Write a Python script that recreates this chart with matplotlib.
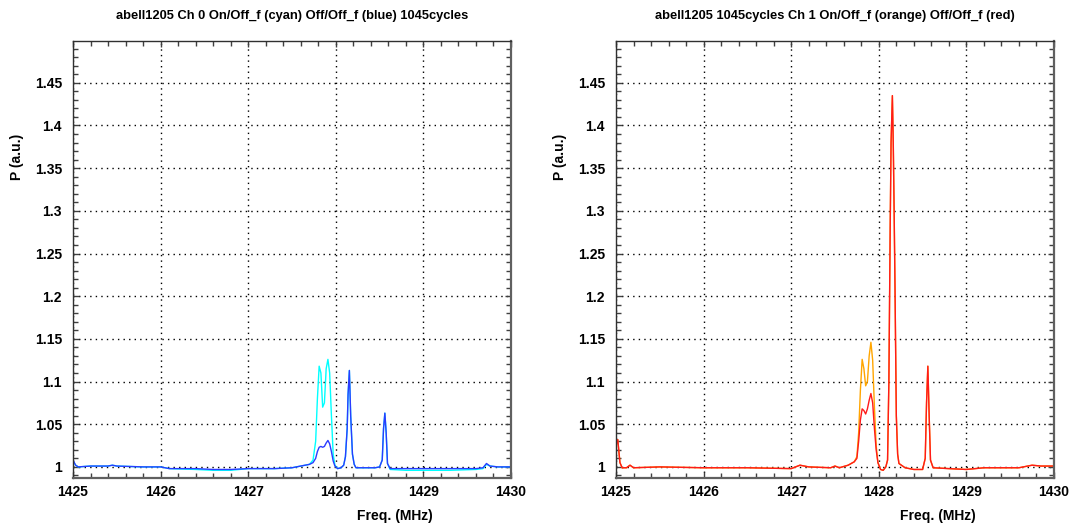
import matplotlib
matplotlib.use("Agg")
import matplotlib.pyplot as plt
from matplotlib.ticker import MultipleLocator, FormatStrFormatter, FuncFormatter

plt.rcParams['font.family'] = ['Liberation Sans', 'DejaVu Sans']
plt.rcParams['font.weight'] = 'bold'
plt.rcParams['font.size'] = 10

# channel 0 spectrum (freq in MHz)
freq_ch0 = [1425.00, 1425.03, 1425.06, 1425.20, 1425.40, 1425.45, 1425.50, 1425.80,
            1426.00, 1426.10, 1426.40, 1426.60, 1426.80, 1427.00, 1427.30, 1427.50,
            1427.60, 1427.70, 1427.74, 1427.77, 1427.79, 1427.81, 1427.83, 1427.85,
            1427.87, 1427.89, 1427.91, 1427.93, 1427.95, 1427.97, 1427.99, 1428.02,
            1428.06, 1428.09, 1428.11, 1428.13, 1428.14, 1428.155, 1428.17, 1428.19,
            1428.21, 1428.23, 1428.30, 1428.45, 1428.50, 1428.53, 1428.545, 1428.56,
            1428.575, 1428.59, 1428.62, 1428.80, 1429.00, 1429.30, 1429.60, 1429.68,
            1429.72, 1429.76, 1429.85, 1430.00]
on_ch0 = [1.007, 1.002, 1.000, 1.001, 1.001, 1.002, 1.001, 1.000,
          1.000, 0.998, 0.997, 0.996, 0.996, 0.998, 0.998, 0.999,
          1.001, 1.003, 1.008, 1.030, 1.080, 1.118, 1.110, 1.070,
          1.075, 1.115, 1.126, 1.110, 1.060, 1.015, 1.002, 0.998,
          0.999, 1.002, 1.012, 1.045, 1.085, 1.113, 1.060, 1.015,
          1.003, 0.999, 0.999, 0.999, 1.000, 1.008, 1.045, 1.063,
          1.040, 1.004, 0.997, 0.996, 0.996, 0.996, 0.997, 0.998,
          1.003, 1.001, 1.000, 1.000]
off_ch0 = [1.008, 1.002, 1.000, 1.001, 1.001, 1.002, 1.001, 1.000,
           1.000, 0.998, 0.998, 0.997, 0.997, 0.998, 0.998, 0.999,
           1.001, 1.003, 1.005, 1.010, 1.018, 1.023, 1.024, 1.023,
           1.024, 1.028, 1.031, 1.027, 1.018, 1.007, 1.001, 0.998,
           0.999, 1.002, 1.012, 1.045, 1.085, 1.113, 1.060, 1.015,
           1.003, 0.999, 0.999, 0.999, 1.000, 1.008, 1.045, 1.063,
           1.040, 1.004, 0.998, 0.998, 0.998, 0.998, 0.998, 0.999,
           1.004, 1.001, 1.000, 1.000]

# channel 1 spectrum
freq_ch1 = [1425.00, 1425.02, 1425.045, 1425.07, 1425.12, 1425.16, 1425.20, 1425.50,
            1426.00, 1426.50, 1427.00, 1427.10, 1427.20, 1427.45, 1427.50, 1427.55,
            1427.65, 1427.72, 1427.75, 1427.77, 1427.79, 1427.81, 1427.83, 1427.85,
            1427.87, 1427.89, 1427.91, 1427.93, 1427.95, 1427.97, 1427.99, 1428.02,
            1428.05, 1428.08, 1428.10, 1428.115, 1428.13, 1428.14, 1428.155, 1428.165,
            1428.175, 1428.185, 1428.20, 1428.215, 1428.23, 1428.30, 1428.40, 1428.50,
            1428.53, 1428.545, 1428.56, 1428.575, 1428.59, 1428.62, 1428.80, 1429.00,
            1429.20, 1429.60, 1429.75, 1429.85, 1430.00]
on_ch1 = [1.028, 1.032, 1.005, 0.999, 0.999, 1.002, 0.999, 1.000,
          0.999, 0.999, 0.998, 1.002, 1.000, 0.999, 1.001, 0.999,
          1.002, 1.006, 1.012, 1.040, 1.090, 1.126, 1.115, 1.095,
          1.100, 1.130, 1.146, 1.125, 1.070, 1.025, 1.005, 0.997,
          0.996, 1.000, 1.008, 1.100, 1.280, 1.380, 1.435, 1.380,
          1.300, 1.210, 1.060, 1.015, 1.004, 0.999, 0.997, 0.997,
          1.010, 1.075, 1.118, 1.060, 1.008, 0.999, 0.998, 0.997,
          0.999, 0.999, 1.002, 1.001, 1.001]
off_ch1 = [1.025, 1.032, 1.005, 0.999, 0.999, 1.002, 0.999, 1.000,
           0.999, 0.999, 0.998, 1.002, 1.000, 0.999, 1.001, 0.999,
           1.002, 1.006, 1.010, 1.030, 1.055, 1.068, 1.066, 1.062,
           1.068, 1.078, 1.086, 1.075, 1.045, 1.020, 1.005, 0.997,
           0.996, 1.000, 1.008, 1.100, 1.280, 1.380, 1.435, 1.380,
           1.300, 1.210, 1.060, 1.015, 1.004, 0.999, 0.997, 0.997,
           1.010, 1.075, 1.118, 1.060, 1.008, 0.999, 0.998, 0.997,
           0.999, 0.999, 1.002, 1.001, 1.001]

titles = ["abell1205 Ch 0 On/Off_f (cyan) Off/Off_f (blue) 1045cycles",
          "abell1205 1045cycles Ch 1 On/Off_f (orange) Off/Off_f (red)"]


def plot_panel(ax, freq, on, off, on_color, off_color, title):
    ax.plot(freq, on, color=on_color, lw=1.0)
    ax.plot(freq, off, color=off_color, lw=1.0)

    ax.set_xlim(1425, 1430)
    ax.set_ylim(0.987, 1.499)
    ax.xaxis.set_major_locator(MultipleLocator(1))
    ax.xaxis.set_minor_locator(MultipleLocator(0.2))
    ax.yaxis.set_major_locator(MultipleLocator(0.05))
    ax.yaxis.set_minor_locator(MultipleLocator(0.01))
    ax.xaxis.set_major_formatter(FormatStrFormatter('%d'))
    ax.yaxis.set_major_formatter(FuncFormatter(lambda v, p: '%g' % round(v, 2)))

    ax.tick_params(which='both', direction='in', top=True, right=True,
                   color='#404040', width=1.0)
    ax.tick_params(which='major', length=4.5)
    ax.tick_params(which='minor', length=3.5)
    ax.tick_params(axis='y', pad=8)
    ax.tick_params(axis='x', pad=5)
    for lab in ax.get_xticklabels() + ax.get_yticklabels():
        lab.set_fontweight('bold')

    ax.grid(True, which='major', color='black', lw=1.0, linestyle=(0, (1, 3)))

    for side in ['left', 'top']:
        ax.spines[side].set_color('#303030')
        ax.spines[side].set_linewidth(1.0)
    for side in ['right', 'bottom']:
        ax.spines[side].set_color('#606060')
        ax.spines[side].set_linewidth(1.6)

    ax.set_title(title, fontsize=9.3, fontweight='bold', pad=16)
    ax.set_xlabel("Freq. (MHz)", fontweight='bold')
    ax.set_ylabel("P (a.u.)", fontweight='bold')
    ax.xaxis.set_label_coords(0.735, -0.072)
    ax.yaxis.set_label_coords(-0.112, 0.735)


fig = plt.figure(figsize=(10.72, 5.28), dpi=100)
ax0 = fig.add_axes([73 / 1072, 50 / 528, 438 / 1072, 437 / 528])
ax1 = fig.add_axes([616 / 1072, 50 / 528, 438 / 1072, 437 / 528])

plot_panel(ax0, freq_ch0, on_ch0, off_ch0, '#00ffff', '#2b3bff', titles[0])
plot_panel(ax1, freq_ch1, on_ch1, off_ch1, '#ffa500', '#ff1a1a', titles[1])

fig.savefig("out.png", dpi=100)
